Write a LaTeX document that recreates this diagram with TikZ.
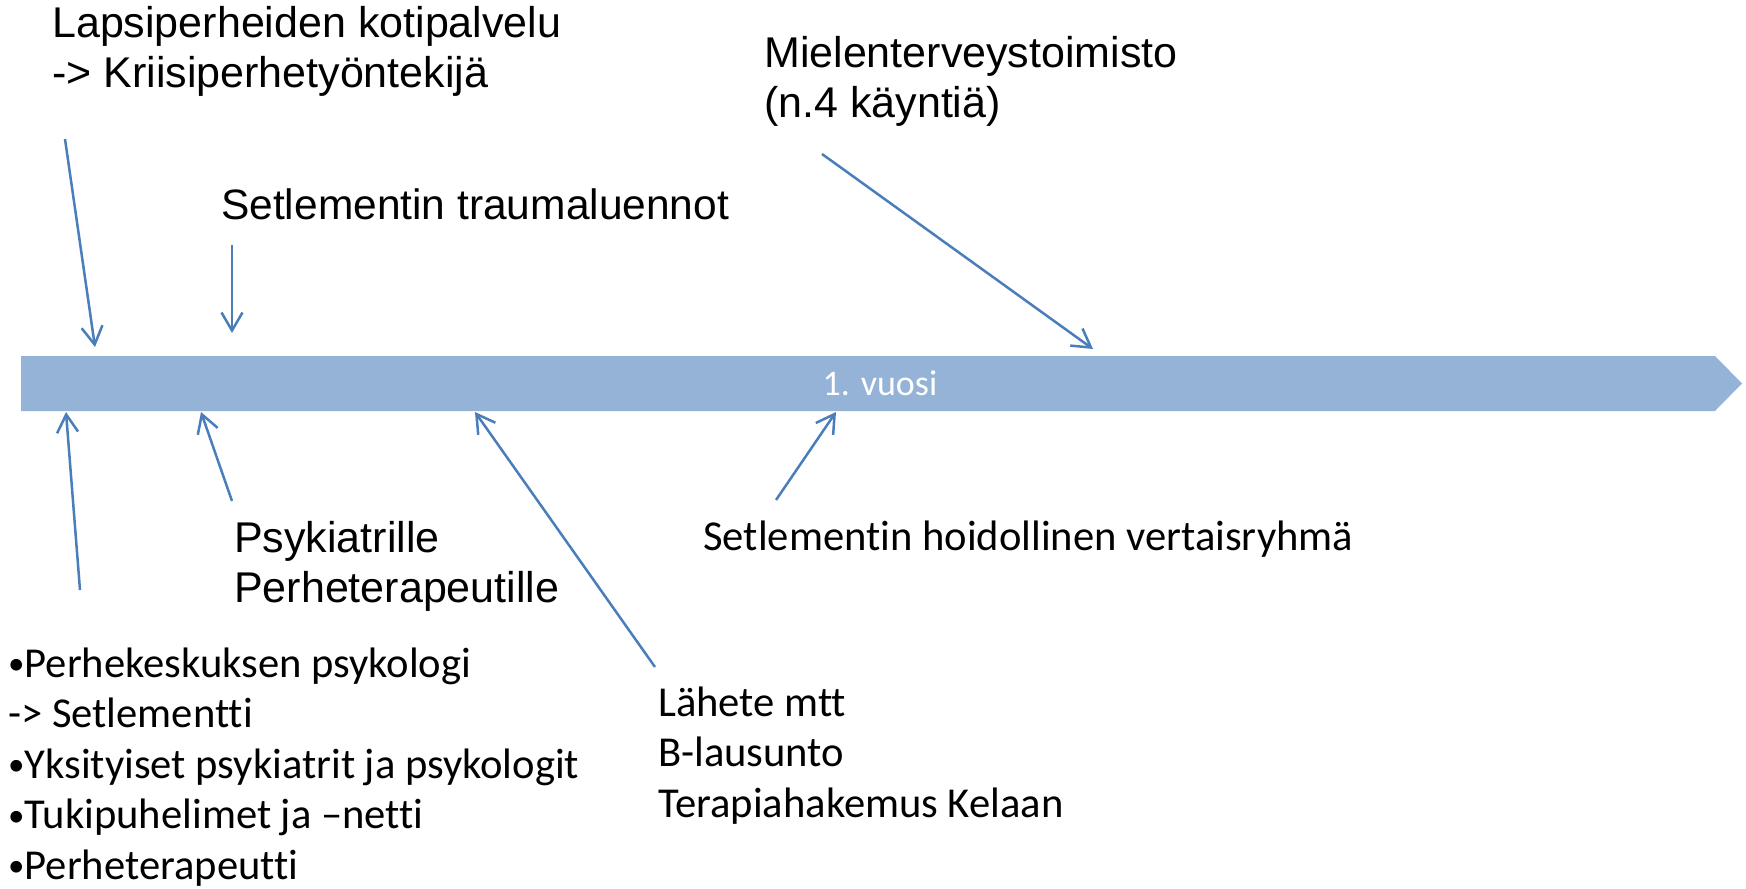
\documentclass[tikz,border=0pt]{standalone}
\usepackage{fontspec}
\setmainfont{Liberation Sans}
\newfontfamily\calfont[Ligatures={NoCommon}]{Carlito}
\usetikzlibrary{arrows.meta}
\definecolor{bandblue}{HTML}{95B3D7}
\definecolor{arrowblue}{HTML}{4A7EBB}
\newcommand\smbul{\raisebox{2.5pt}{\fontsize{33}{33}\selectfont •}}
\tikzset{
  arialtxt/.style={anchor=base west, inner sep=0pt, font=\fontsize{43}{50}\selectfont},
  caltxt/.style={anchor=base west, inner sep=0pt, font=\calfont\fontsize{42.6}{50.5}\selectfont},
  conn/.style={draw=arrowblue, line width=2.5pt, -{Straight Barb[length=18pt,width=21pt]}},
}
\begin{document}
\begin{tikzpicture}[x=1pt,y=-1pt]
\useasboundingbox (0,0) rectangle (1746,889);
% timeline band
\fill[bandblue] (21,356) -- (1715,356) -- (1742,383.5) -- (1715,411) -- (21,411) -- cycle;
\node[anchor=base, inner sep=0pt, text=white, font=\calfont\fontsize{36}{43}\selectfont] (year) at (880,395) {1. vuosi};
% top labels
\node[arialtxt] (koti) at (52,37) {\begin{tabular}[t]{@{}l@{}}Lapsiperheiden kotipalvelu\\-> Kriisiperhetyöntekijä\end{tabular}};
\node[arialtxt, font=\fontsize{42.5}{50}\selectfont] (trauma) at (221,219) {Setlementin traumaluennot};
\node[arialtxt] (mtt) at (764,67) {\begin{tabular}[t]{@{}l@{}}Mielenterveystoimisto\\(n.4 käyntiä)\end{tabular}};
% bottom labels
\node[arialtxt] (psyk) at (234,552) {\begin{tabular}[t]{@{}l@{}}Psykiatrille\\Perheterapeutille\end{tabular}};
\node[caltxt] (vertais) at (703,550) {Setlementin hoidollinen vertaisryhmä};
\node[caltxt] (lahete) at (658,716) {\begin{tabular}[t]{@{}l@{}}Lähete mtt\\B-lausunto\\Terapiahakemus Kelaan\end{tabular}};
\node[caltxt] (lista) at (8,677) {\begin{tabular}[t]{@{}l@{}}\smbul Perhekeskuksen psykologi\\-> Setlementti\\\smbul Yksityiset psykiatrit ja psykologit\\\smbul Tukipuhelimet ja –netti\\\smbul Perheterapeutti\end{tabular}};
% connector ends
\coordinate (kotiS) at (65,139);   \coordinate (kotiE) at (95,347);
\coordinate (traumaS) at (232,245); \coordinate (traumaE) at (232,333);
\coordinate (mttS) at (822,154);   \coordinate (mttE) at (1093,349);
\coordinate (listaS) at (80,590);  \coordinate (listaE) at (66,412);
\coordinate (psykS) at (232,501);  \coordinate (psykE) at (201,412);
\coordinate (laheteS) at (655,667); \coordinate (laheteE) at (475,412);
\coordinate (vertaisS) at (776,500); \coordinate (vertaisE) at (836,412);
\draw[conn] (kotiS) -- (kotiE);
\draw[conn] (traumaS) -- (traumaE);
\draw[conn] (mttS) -- (mttE);
\draw[conn] (listaS) -- (listaE);
\draw[conn] (psykS) -- (psykE);
\draw[conn] (laheteS) -- (laheteE);
\draw[conn] (vertaisS) -- (vertaisE);
\end{tikzpicture}
\end{document}
